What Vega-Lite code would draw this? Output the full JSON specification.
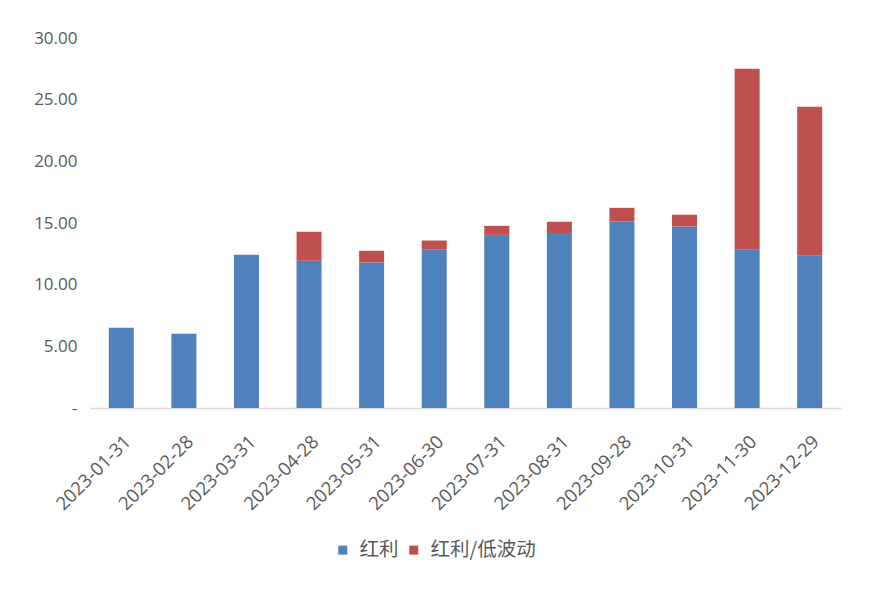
{
  "$schema": "https://vega.github.io/schema/vega-lite/v6.json",
  "autosize": "none",
  "width": 751,
  "height": 370,
  "padding": {"left": 90, "top": 38, "right": 51, "bottom": 201},
  "background": "#ffffff",
  "config": {
    "view": {"stroke": null},
    "axis": {"labelColor": "#595959", "labelFont": "Open Sans", "labelFontSize": 17, "grid": false, "ticks": false}
  },
  "data": {
    "values": [
      {"date": "2023-01-31", "series": "红利", "value": 6.5},
      {"date": "2023-02-28", "series": "红利", "value": 6.02},
      {"date": "2023-03-31", "series": "红利", "value": 12.42},
      {"date": "2023-04-28", "series": "红利", "value": 11.94},
      {"date": "2023-04-28", "series": "红利/低波动", "value": 2.35},
      {"date": "2023-05-31", "series": "红利", "value": 11.8},
      {"date": "2023-05-31", "series": "红利/低波动", "value": 0.95},
      {"date": "2023-06-30", "series": "红利", "value": 12.88},
      {"date": "2023-06-30", "series": "红利/低波动", "value": 0.7},
      {"date": "2023-07-31", "series": "红利", "value": 14.04},
      {"date": "2023-07-31", "series": "红利/低波动", "value": 0.73},
      {"date": "2023-08-31", "series": "红利", "value": 14.18},
      {"date": "2023-08-31", "series": "红利/低波动", "value": 0.92},
      {"date": "2023-09-28", "series": "红利", "value": 15.12},
      {"date": "2023-09-28", "series": "红利/低波动", "value": 1.11},
      {"date": "2023-10-31", "series": "红利", "value": 14.72},
      {"date": "2023-10-31", "series": "红利/低波动", "value": 0.95},
      {"date": "2023-11-30", "series": "红利", "value": 12.83},
      {"date": "2023-11-30", "series": "红利/低波动", "value": 14.67},
      {"date": "2023-12-29", "series": "红利", "value": 12.34},
      {"date": "2023-12-29", "series": "红利/低波动", "value": 12.08}
    ]
  },
  "mark": {"type": "bar"},
  "encoding": {
    "x": {
      "field": "date", "type": "ordinal", "sort": null,
      "scale": {"paddingInner": 0.6, "paddingOuter": 0.3},
      "axis": {"title": null, "labelAngle": -45, "labelAlign": "right", "labelBaseline": "top", "labelPadding": 24, "labelFontSize": 18.5, "domainColor": "#d9d9d9", "domainWidth": 1.5}
    },
    "y": {
      "field": "value", "type": "quantitative", "stack": "zero",
      "scale": {"domain": [0, 30], "nice": false},
      "axis": {"title": null, "values": [0, 5, 10, 15, 20, 25, 30], "domain": false, "labelPadding": 13,
               "labelExpr": "datum.value == 0 ? '-' : format(datum.value, '.2f')"}
    },
    "color": {
      "field": "series", "type": "nominal",
      "scale": {"domain": ["红利", "红利/低波动"], "range": ["#4f81bd", "#c0504d"]},
      "legend": {"title": null, "orient": "none", "direction": "horizontal", "legendX": 243, "legendY": 502,
                 "symbolType": "square", "symbolSize": 81, "symbolStrokeWidth": 0,
                 "labelFont": "Noto Sans CJK SC", "labelFontSize": 19.5, "labelColor": "#595959",
                 "labelOffset": 7, "columnPadding": 5, "padding": 0}
    },
    "order": {"field": "series", "sort": "ascending"}
  }
}
